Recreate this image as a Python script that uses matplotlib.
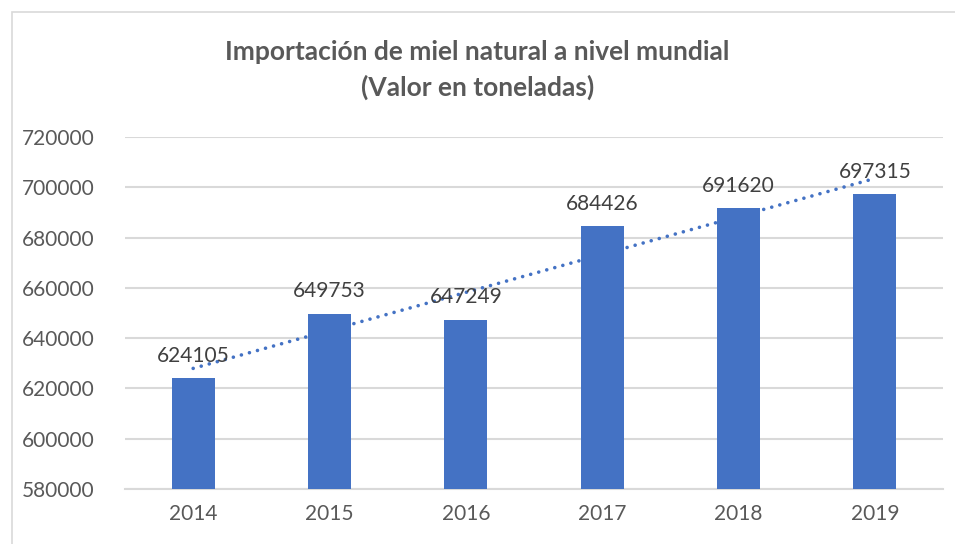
import numpy as np
import matplotlib.pyplot as plt
from matplotlib.patches import Rectangle

years = ["2014", "2015", "2016", "2017", "2018", "2019"]
values = [624105, 649753, 647249, 684426, 691620, 697315]
y_ticks = [580000, 600000, 620000, 640000, 660000, 680000, 700000, 720000]

BLUE = "#4472C4"
GRID = "#D9D9D9"

plt.rcParams['font.family'] = ['Lato', 'DejaVu Sans']

fig = plt.figure(figsize=(9.55, 5.44), dpi=100)
ax = fig.add_axes([125 / 955, 55 / 544, 818 / 955, 352 / 544])

x = np.arange(len(years))
ax.bar(x, values, width=0.315, color=BLUE, zorder=3)

# linear trendline
coef = np.polyfit(x, values, 1)
ax.plot(x, np.polyval(coef, x), color=BLUE, linewidth=2.6,
        linestyle=(0, (0.01, 2.3)), dash_capstyle='round', zorder=4)

for xi, v in zip(x, values):
    ax.annotate(str(v), (xi, v), xytext=(0, 9), textcoords='offset points',
                ha='center', va='bottom', fontsize=15, color='#404040', zorder=5)

ax.set_xlim(-0.5, len(years) - 0.5)
ax.set_ylim(580000, 720000)
ax.set_yticks(y_ticks)
ax.set_yticklabels([str(t) for t in y_ticks])
ax.set_xticks(x)
ax.set_xticklabels(years)
ax.tick_params(axis='both', length=0, labelsize=15, colors='#595959')
ax.tick_params(axis='y', pad=22)
ax.tick_params(axis='x', pad=11)
ax.grid(axis='y', color=GRID, linewidth=1.5, zorder=0)
for s in ['top', 'right', 'left']:
    ax.spines[s].set_visible(False)
ax.spines['bottom'].set_color(GRID)
ax.spines['bottom'].set_linewidth(1.5)

fig.text(0.5, 1 - 70 / 544, "Importación de miel natural a nivel mundial\n(Valor en toneladas)",
         ha='center', va='center', fontsize=19, fontweight='bold', color='#595959',
         linespacing=1.5)

# chart border
fig.patches.append(Rectangle((12 / 955, -0.1), 1.2, 1 - 12 / 544 + 0.1,
                             transform=fig.transFigure, fill=False,
                             edgecolor=GRID, linewidth=1.2))

fig.savefig("out.png", dpi=100)
